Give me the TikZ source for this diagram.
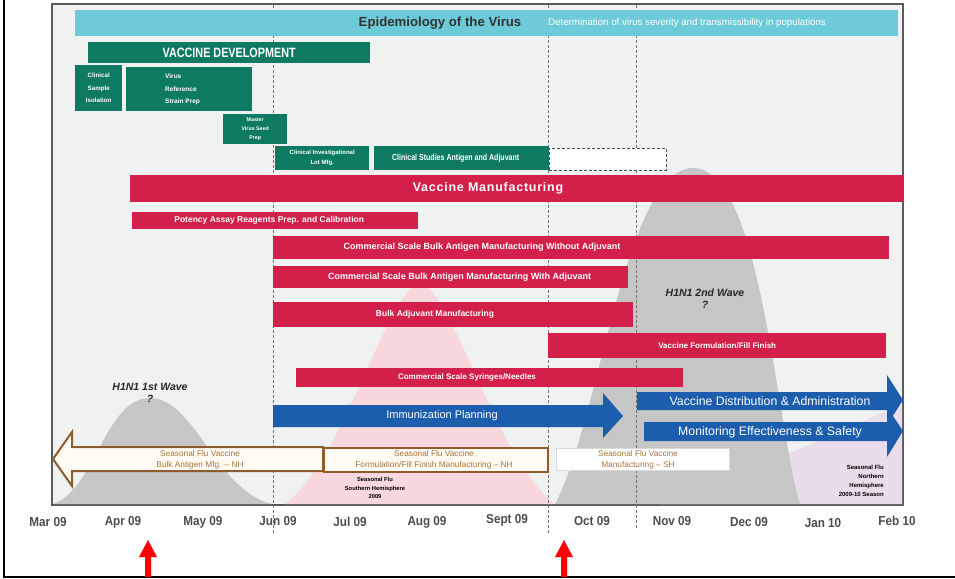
\documentclass[tikz,border=0pt]{standalone}
\usepackage{fontspec}
\setmainfont{Liberation Sans}
\newfontfamily\nar[FakeStretch=0.8]{Liberation Sans}
\newfontfamily\semi[FakeStretch=0.9]{Liberation Sans}
\newfontfamily\wide[LetterSpace=6]{Liberation Sans}
\newcommand\fsz[2]{\fontsize{#1}{#2}\selectfont}
\definecolor{cyanbar}{HTML}{6DCAD8}
\definecolor{grn}{HTML}{0E7A62}
\definecolor{crim}{HTML}{D2204A}
\definecolor{blu}{HTML}{1C5DAE}
\definecolor{brn}{HTML}{8C5B2E}
\definecolor{brtxt}{HTML}{A8743A}
\definecolor{bgc}{HTML}{F0F2F1}
\definecolor{wavec}{HTML}{C6C6C6}
\definecolor{pinkw}{HTML}{F8D8DC}
\definecolor{lav}{HTML}{EADDEB}
\definecolor{framec}{HTML}{5A5A5A}
\definecolor{cream}{HTML}{FFFBF3}
\tikzset{
  bar/.style={anchor=north west, inner sep=0pt, align=center, text=white, font=\bfseries\fsz{6}{7}},
  gbar/.style={bar, fill=grn},
  rbar/.style={bar, fill=crim},
  lbl/.style={inner sep=0pt, align=center, text=white, font=\bfseries\fsz{8.5}{9}},
  month/.style={inner sep=0pt, text=black!70, font=\semi\bfseries\fsz{13}{14}},
  wavelbl/.style={inner sep=0pt, align=center, text=black!85, font=\bfseries\itshape\fsz{10.5}{12}},
  seas/.style={inner sep=0pt, align=center, text=brtxt, font=\fsz{8.3}{11}},
  note/.style={inner sep=0pt, text=black, font=\bfseries\fsz{5.8}{8.5}},
  vdash/.style={densely dashed, draw=black!55, line width=0.7pt},
  bluarrow/.style={fill=blu},
  redarrow/.style={fill=red},
}
\begin{document}
\begin{tikzpicture}[x=1pt,y=-1pt]
\useasboundingbox (0,0) rectangle (955,578);
% outer lines
\draw[line width=2pt] (4,0) -- (4,577) -- (955,577);
% chart frame
\draw[draw=framec, line width=1.5pt, fill=bgc] (52,4) rectangle (903,505);
% waves
\fill[lav] (660,504) .. controls (760,470) and (850,425) .. (902,405) -- (902,504) -- cycle;
\fill[pinkw] (285,504) .. controls (345,460) and (388,285) .. (420,285) .. controls (452,285) and (495,460) .. (555,504) -- cycle;
\fill[wavec] (555,504) .. controls (600,420) and (625,168) .. (693,168) .. controls (761,168) and (775,420) .. (800,504) -- cycle;
\fill[wavec] (53,504) .. controls (95,490) and (105,398) .. (150,398) .. controls (195,398) and (215,490) .. (272,504) -- cycle;
% dashed month lines
\draw[vdash] (273,5) -- (273,535);
\draw[vdash] (548,5) -- (548,535);
\draw[vdash] (636,5) -- (636,530);
% epidemiology
\node[bar, fill=cyanbar, minimum width=823pt, minimum height=26pt] (epi) at (75,10) {};
\node[inner sep=0pt, text=black!80, font=\bfseries\fsz{13.2}{15}] (epit) at (440,23) {Epidemiology of the Virus};
\node[inner sep=0pt, anchor=west, text=white, font=\fsz{9.7}{11}] (epis) at (548,23) {Determination of virus severity and transmissibility in populations};
% vaccine development
\node[gbar, minimum width=282pt, minimum height=21pt, font=\nar\bfseries\fsz{13.5}{15}] (vdev) at (88,42) {VACCINE DEVELOPMENT};
\node[gbar, minimum width=47pt, minimum height=46pt, font=\bfseries\fsz{6.2}{12.5}] (csi) at (75,65) {Clinical\\Sample\\Isolation};
\node[gbar, minimum width=126pt, minimum height=44pt] (vrs) at (126,67) {};
\node[inner sep=0pt, anchor=west, align=left, text=white, font=\bfseries\fsz{6.5}{12.5}] (vrst) at (165,89.5) {Virus\\Reference\\Strain Prep};
\node[gbar, minimum width=64pt, minimum height=30pt, font=\bfseries\fsz{5.3}{9}] (mvs) at (223,114) {Master\\Virus Seed\\Prep};
\node[gbar, minimum width=94pt, minimum height=24pt, font=\bfseries\fsz{6}{10}] (cil) at (275,146) {Clinical Investigational\\Lot Mfg.};
\node[gbar, minimum width=175pt, minimum height=24pt, font=\nar\bfseries\fsz{8.8}{10}] (cs) at (374,146) {Clinical Studies Antigen and Adjuvant\hspace{12pt}};
\node[anchor=north west, inner sep=0pt, fill=white, draw=black!70, densely dashed, minimum width=117pt, minimum height=22pt] (csx) at (549,148) {};
% vaccine manufacturing
\node[rbar, minimum width=773pt, minimum height=27pt] (vm) at (130,175) {};
\node[inner sep=0pt, text=white, font=\wide\bfseries\fsz{12.5}{14}] (vmt) at (488,188.5) {Vaccine Manufacturing};
\node[rbar, minimum width=286pt, minimum height=17pt, font=\bfseries\fsz{8.5}{9}] (pot) at (132,212) {Potency Assay Reagents Prep. and Calibration\hspace{12pt}};
\node[rbar, minimum width=616pt, minimum height=23pt] (cwo) at (273,236) {};
\node[lbl, font=\bfseries\fsz{9}{10}] (cwot) at (482,247.5) {Commercial Scale Bulk Antigen Manufacturing Without Adjuvant};
\node[rbar, minimum width=355pt, minimum height=22pt, font=\bfseries\fsz{9}{10}] (cw) at (273,266) {\hspace{18pt}Commercial Scale Bulk Antigen Manufacturing With Adjuvant};
\node[rbar, minimum width=360pt, minimum height=25pt] (bam) at (273,302) {};
\node[lbl, font=\bfseries\fsz{8.5}{10}] (bamt) at (435,314.5) {Bulk Adjuvant Manufacturing};
\node[rbar, minimum width=338pt, minimum height=25pt, font=\bfseries\fsz{8}{9}] (vff) at (548,333) {Vaccine Formulation/Fill Finish};
\node[rbar, minimum width=387pt, minimum height=19pt] (syr) at (296,368) {};
\node[lbl, font=\bfseries\fsz{8}{9}] (syrt) at (467,377.5) {Commercial Scale Syringes/Needles};
% blue arrows
\fill[bluarrow] (273,405) -- (603,405) -- (603,393) -- (623,416) -- (603,438) -- (603,427) -- (273,427) -- cycle;
\node[lbl, font=\fsz{11}{12}] (imm) at (442,416) {Immunization Planning};
\fill[bluarrow] (637,392) -- (887,392) -- (887,375) -- (903,400) -- (887,425) -- (887,410) -- (637,410) -- cycle;
\node[lbl, font=\fsz{12.3}{13}] (vda) at (770,401) {Vaccine Distribution \& Administration};
\fill[bluarrow] (644,422) -- (887,422) -- (887,407) -- (903,431) -- (887,457) -- (887,441) -- (644,441) -- cycle;
\node[lbl, font=\fsz{12.3}{13}] (mon) at (770,432) {Monitoring Effectiveness \& Safety};
% seasonal flu
\draw[draw=brn, line width=2pt, fill=cream, line join=miter] (323,447) -- (72,447) -- (72,432) -- (53,459) -- (72,486) -- (72,471) -- (323,471) -- cycle;
\node[seas] (sf1) at (200,459.5) {Seasonal Flu Vaccine\\Bulk Antigen Mfg. -- NH};
\node[anchor=north west, inner sep=0pt, draw=brn, line width=1.5pt, fill=cream, minimum width=224pt, minimum height=24pt] (sf2) at (323,447) {};
\node[seas] (sf2t) at (434,459.5) {Seasonal Flu Vaccine\\Formulation/Fill Finish Manufacturing -- NH};
\node[anchor=north west, inner sep=0pt, draw=black!15, fill=white, minimum width=173pt, minimum height=22pt] (sf3) at (556,448) {};
\node[seas] (sf3t) at (638,459.5) {Seasonal Flu Vaccine\\Manufacturing -- SH};
\node[note, align=center] (shn) at (375,488) {Seasonal Flu\\Southern Hemisphere\\2009};
\node[note, align=right, anchor=east, font=\bfseries\fsz{6}{9}] (nhn) at (884,481) {Seasonal Flu\\Northern\\Hemisphere\\2009-10 Season};
% wave labels
\node[wavelbl] (w1) at (150,393) {H1N1 1st Wave\\?};
\node[wavelbl] (w2) at (705,299) {H1N1 2nd Wave\\?};
% months
\node[month] (m1) at (48,522) {Mar 09};
\node[month] (m2) at (123,522) {Apr 09};
\node[month] (m3) at (203,522) {May 09};
\node[month] (m4) at (278,521) {Jun 09};
\node[month] (m5) at (350,522) {Jul 09};
\node[month] (m6) at (427,522) {Aug 09};
\node[month] (m7) at (507,520) {Sept 09};
\node[month] (m8) at (592,521) {Oct 09};
\node[month] (m9) at (672,521) {Nov 09};
\node[month] (m10) at (749,522) {Dec 09};
\node[month] (m11) at (823,523) {Jan 10};
\node[month] (m12) at (897,521) {Feb 10};
% red arrows
\fill[redarrow] (145,577) -- (145,557) -- (139,557) -- (148,540) -- (157,557) -- (151,557) -- (151,577) -- cycle;
\fill[redarrow] (561,577) -- (561,557) -- (555,557) -- (564,540) -- (573,557) -- (567,557) -- (567,577) -- cycle;
\end{tikzpicture}
\end{document}
